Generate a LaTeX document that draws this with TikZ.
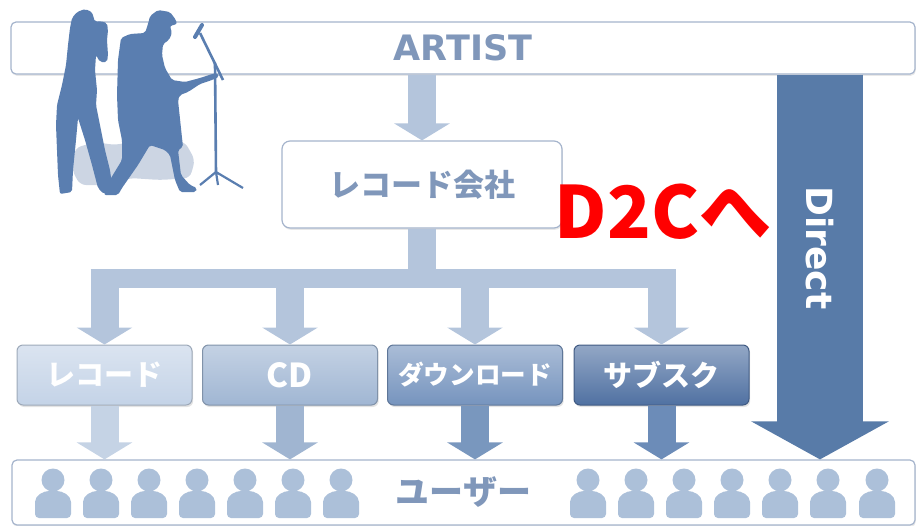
\documentclass[tikz,border=0pt]{standalone}
\usepackage{fontspec}
\usepackage{tikz}
\usetikzlibrary{arrows.meta,calc,shadows}

\newfontfamily\jpfont{Noto Sans CJK JP}
\newfontfamily\vfont{DejaVu Sans}

\definecolor{framegray}{RGB}{165,180,204}
\definecolor{labelgray}{RGB}{128,151,186}
\definecolor{arrowlight}{RGB}{180,197,220}
\definecolor{directblue}{RGB}{88,123,168}
\definecolor{figureblue}{RGB}{90,126,176}
\definecolor{floorshade}{RGB}{204,213,227}
\definecolor{usercol}{RGB}{172,192,217}
\definecolor{recfill}{RGB}{196,211,231}
\definecolor{cdfill}{RGB}{160,182,211}
\definecolor{dlfill}{RGB}{118,148,190}
\definecolor{subfill}{RGB}{80,113,162}
\definecolor{recarrow}{RGB}{197,211,229}
\definecolor{cdarrow}{RGB}{160,181,209}
\definecolor{dlarrow}{RGB}{121,151,190}
\definecolor{subarrow}{RGB}{108,140,184}

\begin{document}
\begin{tikzpicture}[
    x=0.5pt, y=-0.5pt,
    frame/.style={
        rectangle,
        draw=framegray,
        line width=0.6pt,
        fill=white,
        rounded corners=2.5pt,
        inner sep=0pt,
        drop shadow={opacity=0.18, shadow xshift=0.4pt, shadow yshift=-0.9pt}
    },
    media/.style={
        rectangle,
        rounded corners=3pt,
        minimum width=87.5pt,
        minimum height=30pt,
        inner sep=0pt,
        text=white,
        font=\jpfont\bfseries\fontsize{14.5pt}{16pt}\selectfont,
        top color=#1!62!white,
        bottom color=#1,
        draw=#1!80!black,
        line width=0.5pt,
        drop shadow={opacity=0.22, shadow xshift=0.6pt, shadow yshift=-1pt}
    },
    block/.style={
        line width=14pt,
        -{Triangle[width=27.5pt,length=8.5pt]}
    },
    trunk/.style={
        line width=14pt,
        draw=arrowlight
    },
    bar/.style={
        line width=9.5pt,
        draw=arrowlight
    },
    bigarrow/.style={
        line width=43pt,
        draw=directblue,
        -{Triangle[width=68pt,length=19pt]}
    }
]
\useasboundingbox (0,0) rectangle (918,526);

% Top and bottom bands
\node[frame, minimum width=452pt, minimum height=26pt,
      font=\vfont\bfseries\fontsize{17.5pt}{20pt}\selectfont, text=labelgray]
    (artist) at (463,48) {ARTIST};
\node[frame, minimum width=451.5pt, minimum height=32.5pt,
      font=\jpfont\bfseries\fontsize{17pt}{20pt}\selectfont, text=labelgray]
    (users) at (463.5,492.5) {ユーザー};

% Label company
\node[frame, rounded corners=4pt, minimum width=140pt, minimum height=43.5pt,
      font=\jpfont\bfseries\fontsize{15.5pt}{18pt}\selectfont, text=labelgray]
    (label) at (422,184.5) {レコード会社};

% Sales channels
\node[media=recfill] (rec) at (104.5,375) {レコード};
\node[media=cdfill, font=\jpfont\bfseries\fontsize{16.5pt}{18pt}\selectfont] (cd) at (290,375) {CD};
\node[media=dlfill, font=\jpfont\bfseries\fontsize{12.8pt}{15pt}\selectfont] (dl) at (475,375) {ダウンロード};
\node[media=subfill] (sub) at (661.5,375) {サブスク};

% Artist -> label
\draw[block, draw=arrowlight] (label.north |- artist.south) -- (label.north);

% Label -> channels
\coordinate (fork) at (422,278);
\draw[trunk] (label.south) -- (label.south |- fork);
\draw[bar] ($(rec.north |- fork)+(-7pt,0)$) -- ($(sub.north |- fork)+(7pt,0)$);
\foreach \b in {rec,cd,dl,sub}
    \draw[block, draw=arrowlight] (\b.north |- fork) -- (\b.north);

% Channels -> users
\foreach \b/\c in {rec/recarrow, cd/cdarrow, dl/dlarrow, sub/subarrow}
    \draw[block, draw=\c] (\b.south) -- (\b.south |- users.north);

% Direct route
\draw[bigarrow] (artist.south -| 820,0) -- (users.north -| 820,0)
    node[pos=0.45, rotate=-90, text=white,
         font=\vfont\bfseries\fontsize{18pt}{20pt}\selectfont] (direct) {Direct};

\node[text=red, font=\jpfont\bfseries\fontsize{36pt}{40pt}\selectfont]
    (d2c) at (663,212) {D2Cへ};

% User icons
\foreach \u in {53,101,149,197,245,293,341,588,636,684,732,780,828,877} {
    \fill[usercol, rounded corners=2pt] (\u-18,518) -- (\u-18,506)
        .. controls (\u-18,495) and (\u-9,491) .. (\u,491)
        .. controls (\u+9,491) and (\u+18,495) .. (\u+18,506)
        -- (\u+18,518) -- cycle;
    \fill[usercol] (\u,480) circle (11.5);
}

% Band on stage
% floor shadow
\fill[floorshade, rounded corners=3pt] (75,148) -- (95,142) -- (115,145) -- (140,140)
    -- (160,138) -- (185,142) -- (195,160) -- (190,178) -- (160,180) -- (130,178)
    -- (110,185) -- (80,185) -- (72,170) -- cycle;
% singer
\fill[figureblue, rounded corners=1pt] (77,12) -- (85,9) -- (92,12) -- (95,22) -- (100,21)
    -- (107,23) -- (108,30) -- (107,40) -- (108,55) -- (107,62) -- (100,62)
    -- (96,55) -- (95,70) -- (97,90) -- (96,105) -- (100,125) -- (105,150)
    -- (110,170) -- (112,185) -- (117,192) -- (104,194) -- (98,188) -- (92,165)
    -- (85,140) -- (78,118) -- (76,140) -- (73,170) -- (72,192) -- (60,194)
    -- (58,175) -- (57,150) -- (56,125) -- (57,105) -- (62,85) -- (66,65)
    -- (68,45) -- (70,28) -- (72,18) -- cycle;
% guitarist
\fill[figureblue, rounded corners=1pt] (150,16) -- (158,10) -- (170,12) -- (176,20)
    -- (177,24) -- (170,26) -- (172,33) -- (169,40) -- (163,44) -- (162,55)
    -- (165,68) -- (172,80) -- (185,82) -- (200,78) -- (212,74) -- (218,73)
    -- (219,77) -- (212,80) -- (200,84) -- (188,92) -- (180,95) -- (178,100)
    -- (183,147) -- (178,150) -- (181,175) -- (190,185) -- (197,188) -- (196,192)
    -- (180,192) -- (175,180) -- (170,155) -- (165,150) -- (150,145) -- (138,165)
    -- (122,188) -- (118,195) -- (104,195) -- (108,183) -- (122,160) -- (122,140)
    -- (118,120) -- (117,95) -- (118,60) -- (121,38) -- (130,34) -- (145,33)
    -- (148,24) -- cycle;
% microphone stand
\draw[figureblue, line width=1.3pt] (200,33) -- (223,80);
\draw[figureblue, line width=2pt, line cap=round] (195,37) -- (202,25);
\draw[figureblue, line width=1.3pt] (215,63) -- (216,173);
\draw[figureblue, line width=1.1pt] (216,172) -- (200,185)
    (216,172) -- (243,188) (216,172) -- (218,185);

\end{tikzpicture}
\end{document}
